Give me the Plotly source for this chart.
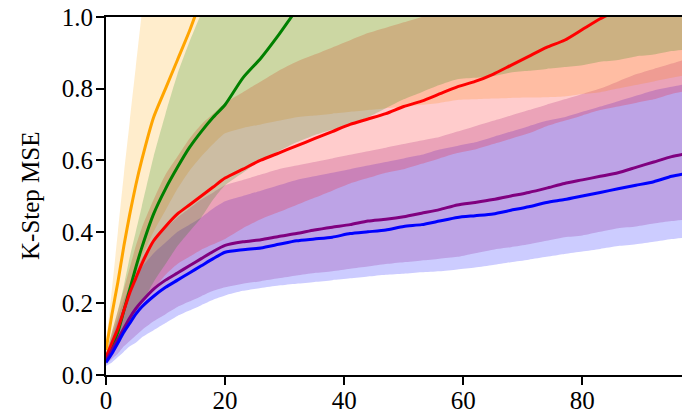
import plotly.graph_objects as go

X = [0, 1, 2, 3, 4, 5, 6, 8, 10, 12, 14, 16, 18, 20, 23, 26, 29, 32, 35, 38,
     41, 44, 47, 50, 53, 56, 59, 62, 65, 68, 71, 74, 77, 80, 83, 86, 89, 92, 95, 98]

orange_mean = [0.07, 0.17, 0.26, 0.36, 0.45, 0.53, 0.60, 0.72, 0.80, 0.88, 0.96, 1.05, 1.13, 1.20, 1.30, 1.40,
               1.50, 1.60, 1.70, 1.80, 1.90, 2.00, 2.10, 2.20, 2.30, 2.40, 2.50, 2.60, 2.70, 2.80, 2.90, 3.00,
               3.10, 3.20, 3.30, 3.40, 3.50, 3.60, 3.70, 3.80]
orange_upper = [0.09, 0.24, 0.40, 0.56, 0.71, 0.86, 1.01, 1.30, 1.55, 1.80, 2.00, 2.20, 2.40, 2.60, 2.80, 3.00,
                3.20, 3.40, 3.60, 3.80, 4.00, 4.20, 4.40, 4.60, 4.80, 5.00, 5.20, 5.40, 5.60, 5.80, 6.00, 6.20,
                6.40, 6.60, 6.80, 7.00, 7.20, 7.40, 7.60, 7.80]
orange_lower = [0.05, 0.10, 0.15, 0.20, 0.25, 0.29, 0.33, 0.40, 0.46, 0.52, 0.57, 0.61, 0.645, 0.675, 0.69, 0.70,
                0.71, 0.72, 0.725, 0.73, 0.735, 0.74, 0.745, 0.75, 0.755, 0.76, 0.768, 0.77, 0.772, 0.774, 0.775,
                0.776, 0.778, 0.785, 0.79, 0.80, 0.81, 0.82, 0.83, 0.84]

green_mean = [0.05, 0.08, 0.12, 0.18, 0.24, 0.30, 0.355, 0.45, 0.52, 0.58, 0.635, 0.68, 0.72, 0.755, 0.83, 0.885,
              0.95, 1.02, 1.08, 1.14, 1.20, 1.26, 1.32, 1.38, 1.44, 1.50, 1.56, 1.62, 1.68, 1.74, 1.80, 1.86,
              1.92, 1.98, 2.04, 2.10, 2.16, 2.22, 2.28, 2.34]
green_upper = [0.06, 0.12, 0.18, 0.25, 0.33, 0.40, 0.47, 0.61, 0.73, 0.84, 0.93, 1.01, 1.08, 1.15, 1.25, 1.35,
               1.45, 1.55, 1.65, 1.75, 1.85, 1.95, 2.05, 2.15, 2.25, 2.35, 2.45, 2.55, 2.65, 2.75, 2.85, 2.95,
               3.05, 3.15, 3.25, 3.35, 3.45, 3.55, 3.65, 3.75]
green_lower = [0.045, 0.06, 0.08, 0.11, 0.14, 0.17, 0.20, 0.26, 0.31, 0.36, 0.40, 0.44, 0.49, 0.53, 0.565, 0.60,
               0.625, 0.65, 0.67, 0.685, 0.70, 0.72, 0.745, 0.77, 0.79, 0.81, 0.826, 0.83, 0.835, 0.845, 0.85,
               0.855, 0.86, 0.865, 0.875, 0.88, 0.89, 0.895, 0.905, 0.91]

red_mean = [0.05, 0.09, 0.13, 0.18, 0.23, 0.27, 0.31, 0.375, 0.415, 0.45, 0.475, 0.50, 0.525, 0.55, 0.575, 0.60,
            0.62, 0.64, 0.66, 0.68, 0.70, 0.715, 0.73, 0.75, 0.765, 0.785, 0.805, 0.82, 0.84, 0.865, 0.89, 0.915,
            0.935, 0.965, 0.995, 1.02, 1.05, 1.08, 1.10, 1.13]
red_upper = [0.06, 0.12, 0.18, 0.24, 0.30, 0.36, 0.41, 0.49, 0.56, 0.61, 0.66, 0.70, 0.73, 0.76, 0.79, 0.82,
             0.85, 0.875, 0.895, 0.915, 0.935, 0.955, 0.97, 0.985, 1.00, 1.02, 1.04, 1.06, 1.08, 1.10, 1.12, 1.14,
             1.16, 1.18, 1.20, 1.22, 1.24, 1.26, 1.28, 1.30]
red_lower = [0.04, 0.06, 0.09, 0.12, 0.15, 0.18, 0.20, 0.24, 0.28, 0.31, 0.33, 0.35, 0.365, 0.38, 0.41, 0.435,
             0.455, 0.475, 0.495, 0.515, 0.535, 0.55, 0.565, 0.575, 0.59, 0.605, 0.62, 0.63, 0.645, 0.66, 0.675,
             0.695, 0.71, 0.725, 0.74, 0.75, 0.76, 0.77, 0.785, 0.795]

purple_mean = [0.04, 0.07, 0.10, 0.13, 0.16, 0.185, 0.205, 0.24, 0.265, 0.285, 0.305, 0.325, 0.345, 0.362, 0.372, 0.378,
               0.387, 0.395, 0.405, 0.413, 0.42, 0.43, 0.435, 0.442, 0.452, 0.462, 0.475, 0.482, 0.49, 0.50, 0.51,
               0.522, 0.535, 0.545, 0.555, 0.565, 0.58, 0.595, 0.61, 0.62]
purple_upper = [0.05, 0.11, 0.16, 0.21, 0.25, 0.29, 0.325, 0.375, 0.41, 0.44, 0.465, 0.49, 0.51, 0.53, 0.545, 0.56,
                0.575, 0.585, 0.595, 0.605, 0.615, 0.625, 0.635, 0.645, 0.655, 0.665, 0.68, 0.695, 0.71, 0.725,
                0.74, 0.755, 0.77, 0.785, 0.80, 0.82, 0.84, 0.855, 0.87, 0.885]
purple_lower = [0.03, 0.045, 0.06, 0.08, 0.095, 0.11, 0.125, 0.15, 0.17, 0.19, 0.205, 0.22, 0.235, 0.245, 0.255, 0.262,
                0.27, 0.278, 0.285, 0.29, 0.297, 0.303, 0.31, 0.315, 0.32, 0.325, 0.33, 0.34, 0.35, 0.357, 0.365,
                0.375, 0.385, 0.39, 0.40, 0.41, 0.415, 0.423, 0.43, 0.435]

blue_mean = [0.035, 0.06, 0.09, 0.12, 0.145, 0.17, 0.19, 0.22, 0.245, 0.265, 0.285, 0.305, 0.325, 0.343, 0.35, 0.355,
             0.365, 0.375, 0.38, 0.385, 0.395, 0.40, 0.405, 0.415, 0.42, 0.43, 0.44, 0.445, 0.45, 0.46, 0.47,
             0.482, 0.49, 0.50, 0.51, 0.52, 0.53, 0.54, 0.555, 0.565]
blue_upper = [0.05, 0.10, 0.15, 0.19, 0.23, 0.27, 0.30, 0.34, 0.37, 0.40, 0.42, 0.44, 0.465, 0.485, 0.50, 0.515,
              0.53, 0.545, 0.555, 0.565, 0.575, 0.585, 0.595, 0.605, 0.615, 0.63, 0.64, 0.65, 0.665, 0.68, 0.695,
              0.71, 0.72, 0.735, 0.75, 0.765, 0.78, 0.795, 0.805, 0.815]
blue_lower = [0.025, 0.035, 0.05, 0.065, 0.08, 0.09, 0.105, 0.125, 0.145, 0.165, 0.18, 0.195, 0.21, 0.222, 0.235, 0.243,
              0.25, 0.255, 0.26, 0.265, 0.27, 0.275, 0.28, 0.283, 0.287, 0.29, 0.295, 0.30, 0.307, 0.315, 0.322,
              0.33, 0.338, 0.345, 0.352, 0.36, 0.365, 0.372, 0.38, 0.385]

series = [
    ("blue", (0, 0, 255), blue_mean, blue_lower, blue_upper),
    ("purple", (128, 0, 128), purple_mean, purple_lower, purple_upper),
    ("orange", (255, 165, 0), orange_mean, orange_lower, orange_upper),
    ("red", (255, 0, 0), red_mean, red_lower, red_upper),
    ("green", (0, 128, 0), green_mean, green_lower, green_upper),
]

fig = go.Figure()
for name, rgb, mean, lo, hi in series:
    fig.add_trace(go.Scatter(x=X, y=lo, mode="lines", line=dict(width=0, shape="spline", smoothing=0.6),
                             showlegend=False, hoverinfo="skip"))
    fig.add_trace(go.Scatter(x=X, y=hi, mode="lines", line=dict(width=0, shape="spline", smoothing=0.6),
                             fill="tonexty", fillcolor="rgba(%d,%d,%d,0.2)" % rgb,
                             showlegend=False, hoverinfo="skip"))

line_order = ["orange", "green", "red", "purple", "blue"]
for key in line_order:
    for name, rgb, mean, lo, hi in series:
        if name == key:
            fig.add_trace(go.Scatter(x=X, y=mean, mode="lines", name=name,
                                     line=dict(color="rgb(%d,%d,%d)" % rgb, width=3,
                                               shape="spline", smoothing=0.6),
                                     showlegend=False))

font = dict(family="Liberation Serif, Times New Roman, serif", size=25, color="black")
fig.update_layout(
    width=682, height=417,
    margin=dict(l=106, r=0, t=17, b=42),
    plot_bgcolor="white", paper_bgcolor="white",
    font=font, showlegend=False,
    xaxis=dict(range=[0, 96.74], tickvals=[0, 20, 40, 60, 80], showgrid=False, zeroline=False,
               showline=True, linecolor="black", linewidth=2, mirror=True, automargin=False,
               ticks="outside", ticklen=8, tickwidth=1.6, tickcolor="black",
               ticklabelstandoff=-6, tickfont=font),
    yaxis=dict(range=[0, 1], tickvals=[0, 0.2, 0.4, 0.6, 0.8, 1.0], tickformat=".1f", showgrid=False,
               zeroline=False, showline=True, linecolor="black", linewidth=2, automargin=False,
               ticks="outside", ticklen=8, tickwidth=1.6, tickcolor="black",
               ticklabelstandoff=-2, tickfont=font),
    annotations=[dict(text="K-Step MSE", xref="paper", yref="paper", x=-0.132, y=0.5,
                      xanchor="center", yanchor="middle", textangle=-90, showarrow=False,
                      font=font)],
)
fig.write_html("out.html")
